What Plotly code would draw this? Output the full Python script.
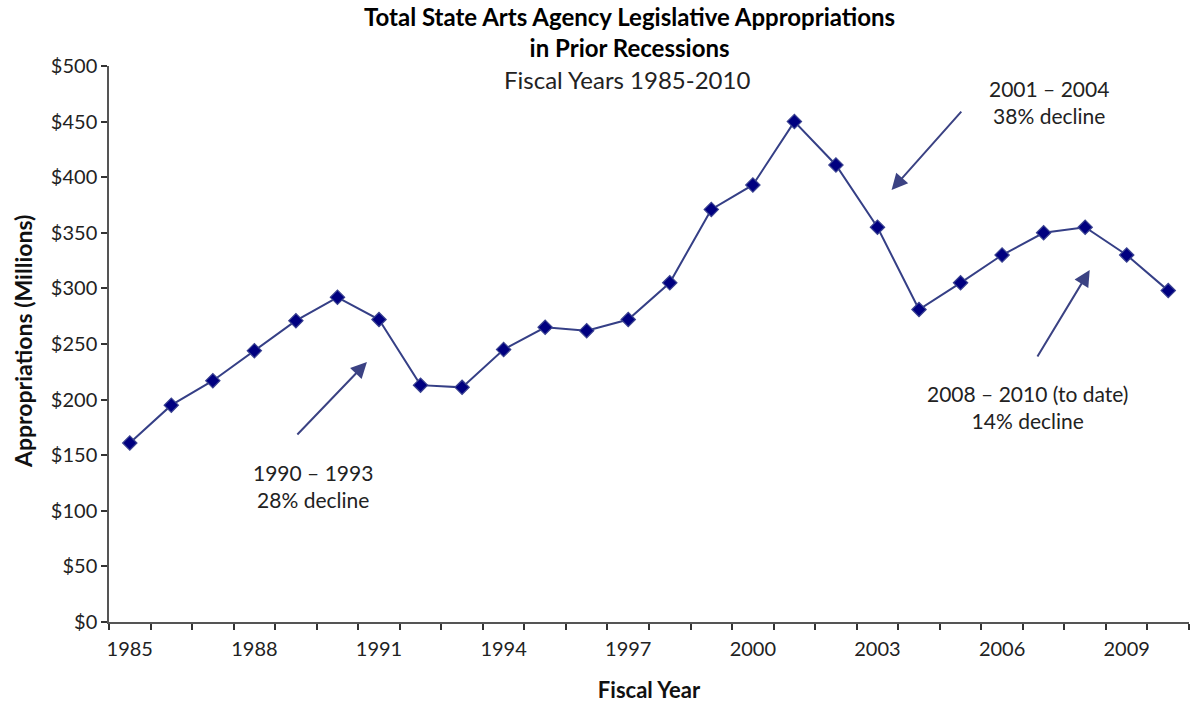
import plotly.graph_objects as go

years = list(range(1985, 2011))
appropriations = [161, 195, 217, 244, 271, 292, 272, 213, 211, 245, 265, 262, 272,
                  305, 371, 393, 450, 411, 355, 281, 305, 330, 350, 355, 330, 298]
tick_years = [1985, 1988, 1991, 1994, 1997, 2000, 2003, 2006, 2009]
y_ticks = [0, 50, 100, 150, 200, 250, 300, 350, 400, 450, 500]

ann_texts = ["1990 – 1993<br>28% decline", "2001 – 2004<br>38% decline",
             "2008 – 2010 (to date)<br>14% decline"]
ann_text_x = [1989.4, 2007.12, 2006.6]
ann_text_y = [122.5, 468.0, 193.0]
arrow_head_x = [1990.71, 2003.34, 2008.11]
arrow_head_y = [233.8, 388.5, 316.5]
arrow_tail_x = [1989.0, 2005.05, 2006.83]
arrow_tail_y = [167.3, 460.4, 237.4]

FONT = "Lato"
fig = go.Figure()
fig.add_trace(go.Scatter(
    x=years, y=appropriations, mode="lines+markers",
    line=dict(color="#353F86", width=2),
    marker=dict(symbol="diamond", size=11, color="#000080",
                line=dict(color="#3A4290", width=1.2)),
    showlegend=False, hoverinfo="x+y"))

annotations = [
    dict(text="<b>Total State Arts Agency Legislative Appropriations<br>in Prior Recessions</b>",
         xref="paper", yref="paper", x=0.4815, y=1.0, yshift=66, xanchor="center", yanchor="top",
         showarrow=False, font=dict(family=FONT, size=24, color="#000")),
    dict(text="Fiscal Years 1985-2010", xref="x", yref="paper", x=1996.96, y=1.0, yshift=3,
         xanchor="center", yanchor="top", showarrow=False,
         font=dict(family=FONT, size=24, color="#222")),
    dict(text="<b>Appropriations (Millions)</b>", xref="paper", yref="paper",
         x=0, xshift=-86, y=(622 - 342) / 556, xanchor="center", yanchor="middle",
         textangle=-90, showarrow=False, font=dict(family=FONT, size=23, color="#111")),
]
for t, tx, ty in zip(ann_texts, ann_text_x, ann_text_y):
    annotations.append(dict(text=t, x=tx, y=ty, xref="x", yref="y", showarrow=False,
                            xanchor="center", yanchor="middle",
                            font=dict(family=FONT, size=21, color="#222")))
for hx, hy, tx, ty in zip(arrow_head_x, arrow_head_y, arrow_tail_x, arrow_tail_y):
    annotations.append(dict(text="", x=hx, y=hy, ax=tx, ay=ty, xref="x", yref="y",
                            axref="x", ayref="y", showarrow=True, arrowhead=2,
                            arrowsize=1.6, arrowwidth=2, arrowcolor="#3B4283", standoff=0))

fig.update_layout(
    width=1191, height=714,
    margin=dict(l=109, r=2, t=66, b=92),
    paper_bgcolor="white", plot_bgcolor="white",
    font=dict(family=FONT, size=20, color="#222"),
    annotations=annotations,
    xaxis=dict(range=[1984.5, 2010.5], tickmode="array", tickvals=tick_years,
               ticktext=[str(y) for y in tick_years], ticks="", showgrid=False,
               showline=True, linecolor="#555", linewidth=1.5, zeroline=False,
               tickfont=dict(size=20, color="#222"), ticklabelstandoff=8,
               minor=dict(ticks="outside", tick0=1984.5, dtick=1, ticklen=6,
                          tickcolor="#333", tickwidth=1.5, showgrid=False),
               title=dict(text="<b>Fiscal Year</b>", font=dict(size=22, color="#111"),
                          standoff=24)),
    yaxis=dict(range=[0, 500], tickmode="array", tickvals=y_ticks,
               ticktext=["$" + str(v) for v in y_ticks], ticks="outside", ticklen=6,
               tickcolor="#333", tickwidth=1.5, showgrid=False, showline=True,
               linecolor="#555", linewidth=1.5, zeroline=False,
               tickfont=dict(size=20, color="#222")),
)
fig.write_html("out.html")
